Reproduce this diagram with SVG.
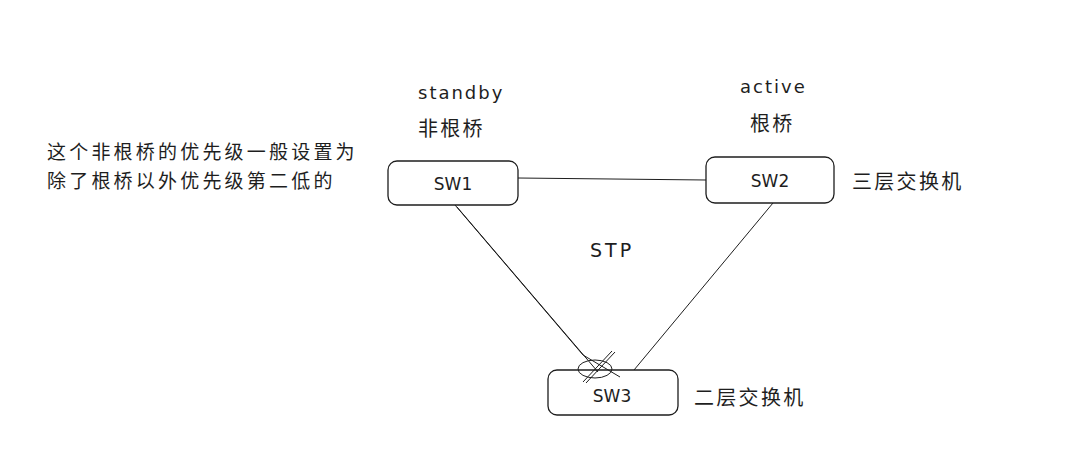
<svg xmlns="http://www.w3.org/2000/svg" width="1087" height="455" viewBox="0 0 1087 455">
<style>
.box{fill:#fff;stroke:#1e1e1e;stroke-width:1.3}
.ln{stroke:#1e1e1e;stroke-width:1;fill:none}
.hand{font-family:"DejaVu Sans",sans-serif;font-size:18px;fill:#1e1e1e;letter-spacing:2px}
.node{font-family:"DejaVu Sans",sans-serif;font-size:17px;fill:#1e1e1e}
.cjk{font-family:"Noto Sans CJK SC",sans-serif;font-size:20px;fill:#1e1e1e;letter-spacing:2.3px}
.note{font-family:"Noto Sans CJK SC",sans-serif;font-size:19px;fill:#1e1e1e;letter-spacing:3.2px}
</style>
<rect width="1087" height="455" fill="#fff"/>
<g id="sw1">
<rect class="box" x="388" y="161" width="130" height="44" rx="9"/>
<text class="node" x="453" y="190" text-anchor="middle">SW1</text>
</g>
<g id="sw2">
<rect class="box" x="706" y="157" width="128" height="46" rx="9"/>
<text class="node" x="770" y="187" text-anchor="middle">SW2</text>
</g>
<g id="sw3">
<rect class="box" x="548" y="370" width="130" height="45" rx="9"/>
<text class="node" x="612" y="402" text-anchor="middle">SW3</text>
</g>
<g id="connectors">
<path class="ln" d="M518 178 L706 180"/>
<path class="ln" d="M455 205 L583 355 L620 377"/>
<path class="ln" d="M457 207 L598 372"/>
<path class="ln" d="M773 203 L634 370"/>
<ellipse class="ln" cx="595" cy="369" rx="17" ry="9"/>
<path class="ln" d="M612 351 L583 382"/>
<path class="ln" d="M615 352 L586 383"/>
</g>
<g id="labels">
<text class="hand" x="418" y="99">standby</text>
<text class="cjk" x="418" y="136">非根桥</text>
<text class="hand" x="740" y="93">active</text>
<text class="cjk" x="750" y="131">根桥</text>
<text class="note" x="47" y="159">这个非根桥的优先级一般设置为</text>
<text class="note" x="47" y="188">除了根桥以外优先级第二低的</text>
<text class="cjk" x="852" y="189">三层交换机</text>
<text class="cjk" x="694" y="405">二层交换机</text>
<text class="hand" x="590" y="257" style="font-size:19px;letter-spacing:3px">STP</text>
</g>
</svg>
